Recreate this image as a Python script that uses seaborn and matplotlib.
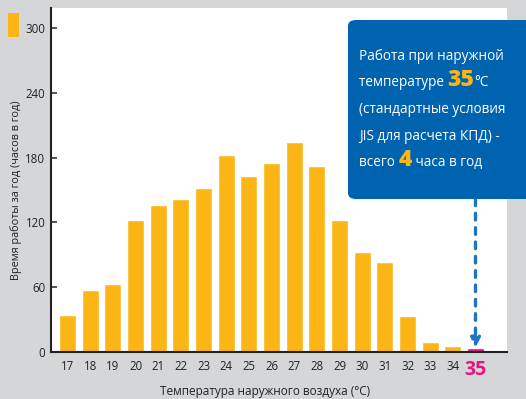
import matplotlib
matplotlib.use("Agg")
import matplotlib.pyplot as plt
import seaborn as sns
import pandas as pd
from matplotlib.patches import FancyBboxPatch, Rectangle

# Hours of operation per year by outdoor temperature
temperatures = ["17", "18", "19", "20", "21", "22", "23", "24", "25", "26",
                "27", "28", "29", "30", "31", "32", "33", "34", "35"]
hours = [34, 57, 63, 122, 136, 142, 152, 182, 163, 175,
         194, 172, 122, 93, 83, 33, 9, 6, 4]
highlight = "35"

y_ticks = [0, 60, 120, 180, 240, 300]
x_title = "Температура наружного воздуха (°C)"
y_title = "Время работы за год (часов в год)"

ORANGE = "#fbb615"
PINK = "#e6157f"
BLUE = "#0063b0"
ARROW_BLUE = "#1f74c4"
BG = "#d5d6d8"

sns.set_theme(style="white")
plt.rcParams["font.family"] = ["Open Sans", "DejaVu Sans"]

W, H = 526, 399
fig = plt.figure(figsize=(W / 100, H / 100), dpi=100, facecolor=BG)
ax = fig.add_axes([51 / W, 1 - 352 / H, (507 - 51) / W, (352 - 8) / H])
ax.set_facecolor("white")

df = pd.DataFrame({"temp": temperatures, "hours": hours})
palette = {t: (PINK if t == highlight else ORANGE) for t in temperatures}
sns.barplot(data=df, x="temp", y="hours", hue="temp", palette=palette,
            order=temperatures, legend=False, width=0.75, saturation=1,
            ax=ax)

ax.set_ylim(0, 318.5)
ax.set_xlim(-0.73, len(temperatures) - 1 + 1.39)
ax.set_yticks(y_ticks)
ax.set_yticklabels([str(v) for v in y_ticks], fontsize=8.3, color="#222222")
ax.tick_params(axis="y", direction="in", length=4, width=1.2,
               color="#333333", left=True, pad=4)
ax.tick_params(axis="x", length=0, pad=6)
for lab in ax.get_xticklabels():
    if lab.get_text() == highlight:
        lab.set_color(PINK)
        lab.set_fontsize(14)
        lab.set_fontweight("bold")
    else:
        lab.set_fontsize(8.3)
        lab.set_color("#222222")

for side in ("top", "right"):
    ax.spines[side].set_visible(False)
for side in ("left", "bottom"):
    ax.spines[side].set_visible(True)
    ax.spines[side].set_color("#222222")
    ax.spines[side].set_linewidth(1.5)

ax.set_xlabel("")
ax.set_ylabel("")
fig.text(265 / W, 1 - 391 / H, x_title, ha="center", va="center",
         fontsize=8.5, color="#222222")
fig.text(16 / W, 1 - 190 / H, y_title, ha="center", va="center",
         rotation=90, fontsize=7.8, color="#222222")

# Legend swatch in the corner
fig.patches.append(Rectangle((8 / W, 1 - 37 / H), 11 / W, 24 / H,
                             transform=fig.transFigure, facecolor=ORANGE,
                             edgecolor="none"))

# Dashed arrow pointing at the highlighted bar
hi = temperatures.index(highlight)
hv = hours[hi]
y_top = ax.transData.inverted().transform((0, H - 199))[1]
ax.annotate("", xy=(hi, hv), xytext=(hi, y_top),
            arrowprops=dict(arrowstyle="-|>", color=ARROW_BLUE, lw=2.4,
                            linestyle=(0, (2, 2.3)), mutation_scale=14,
                            shrinkA=0, shrinkB=0),
            annotation_clip=False)

# Call-out box
box = FancyBboxPatch((348 / W, 1 - 199 / H), (540 - 348) / W, 179 / H,
                     boxstyle="round,pad=0,rounding_size=0.015",
                     transform=fig.transFigure, facecolor=BLUE,
                     edgecolor="none", zorder=5)
fig.patches.append(box)

lines = [
    [("Работа при наружной", "white", 9.8, "normal")],
    [("температуре ", "white", 9.8, "normal"), ("35", ORANGE, 16.5, "heavy"),
     ("°C", "white", 9.8, "normal")],
    [("(стандартные условия", "white", 9.8, "normal")],
    [("JIS для расчета КПД) -", "white", 9.8, "normal")],
    [("всего ", "white", 9.8, "normal"), ("4", ORANGE, 16.5, "heavy"),
     (" часа в год", "white", 9.8, "normal")],
]
baselines = [60, 86.5, 113, 140, 166]

fig.canvas.draw()
renderer = fig.canvas.get_renderer()
for parts, base in zip(lines, baselines):
    x = 359
    for txt, col, size, weight in parts:
        t = fig.text(x / W, 1 - base / H, txt, color=col, fontsize=size,
                     fontweight=weight, ha="left", va="baseline", zorder=6)
        x = t.get_window_extent(renderer).x1

fig.savefig("out.png", dpi=100, facecolor=BG)
